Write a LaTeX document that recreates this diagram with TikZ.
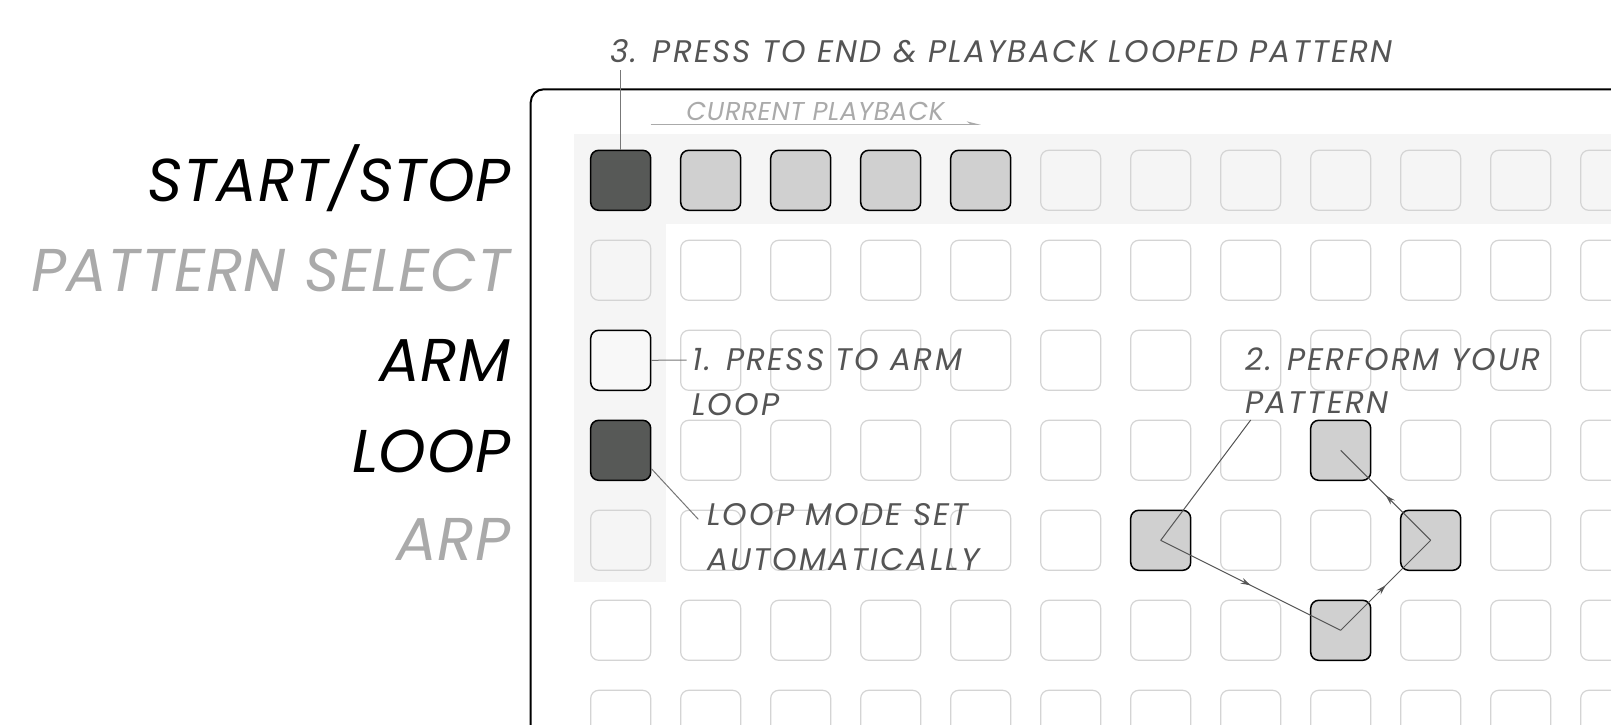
\documentclass[tikz,border=0pt]{standalone}
\usepackage{fontspec}
\setmainfont{Poppins}
\newfontfamily\notefont{Poppins}[LetterSpace=7]
\newfontfamily\faintfont{Poppins}[LetterSpace=2.5]
\newfontfamily\lblfont{Poppins}[LetterSpace=1]
\usetikzlibrary{arrows.meta,decorations.markings}
\definecolor{bandc}{HTML}{F5F5F5}
\definecolor{btnline}{HTML}{D4D4D4}
\definecolor{actfill}{HTML}{D0D0D0}
\definecolor{darkfill}{HTML}{575957}
\definecolor{armfill}{HTML}{F8F8F8}
\definecolor{notec}{HTML}{555555}
\definecolor{faintc}{HTML}{AAAAAA}
\tikzset{
  btn/.style={draw=btnline, line width=0.6pt, rounded corners=4pt, minimum size=30pt, inner sep=0pt},
  act/.style={fill=actfill, draw=black, line width=0.75pt},
  dark/.style={fill=darkfill, draw=black, line width=0.75pt},
  arm/.style={fill=armfill, draw=black, line width=0.75pt},
  s-0-0/.style={dark}, s-1-0/.style={act}, s-2-0/.style={act}, s-3-0/.style={act}, s-4-0/.style={act},
  s-0-2/.style={arm}, s-0-3/.style={dark},
  s-6-4/.style={act}, s-8-3/.style={act}, s-9-4/.style={act}, s-8-5/.style={act},
  lbl/.style={inner sep=0pt, anchor=base east, font=\lblfont\fontsize{30.2}{36}\selectfont\itshape},
  lblon/.style={lbl, text=black},
  lbloff/.style={lbl, text=faintc},
  note/.style={inner sep=0pt, anchor=base west, text=notec, font=\notefont\fontsize{15.6}{18}\selectfont\itshape},
  faintnote/.style={inner sep=0pt, anchor=base west, text=faintc, font=\faintfont\fontsize{12.9}{15}\selectfont\itshape},
  leader/.style={draw=notec!80, line width=0.5pt},
  flowline/.style={draw=notec, line width=0.5pt},
  midarrow/.style={flowline, postaction={decorate}, decoration={markings,
    mark=at position 0.5 with {\arrow{Stealth[length=5pt,width=3pt]}}}},
  framec/.style={draw=black, line width=1pt, rounded corners=6.5pt},
}
\begin{document}
\begin{tikzpicture}[x=0.5pt,y=-0.5pt]
\useasboundingbox (0,0) rectangle (1611,724);
\begin{scope}
\clip (0,0) rectangle (1611,724);
\fill[white] (0,0) rectangle (1611,724);
\fill[bandc] (574,134) rectangle (1640,224);
\fill[bandc] (574,224) rectangle (665.7,581.7);
\draw[framec] (530.7,760) |- (1660,89.3);
\foreach \c in {0,...,11}{
  \foreach \r in {0,...,6}{
    \node[btn, s-\c-\r/.try] (b-\c-\r) at ({620.7+90*\c},{180.3+90*\r}) {};
  }
}
\end{scope}
% row labels
\node[lblon]  (lss)  at (510.5,201) {START/STOP};
\node[lbloff] (lps)  at (510.5,291) {PATTERN SELECT};
\node[lblon]  (larm) at (510.5,381) {ARM};
\node[lblon]  (llp)  at (510.5,472) {LOOP};
\node[lbloff] (larp) at (510.5,560) {ARP};
% current playback
\node[faintnote] (cp) at (686,120) {CURRENT PLAYBACK};
\coordinate (cpa) at (650.7,124.3);
\coordinate (cpb) at (981,124.3);
\draw[draw=faintc, line width=0.6pt, -{Stealth[harpoon,length=6pt,width=3pt]}] (cpa) -- (cpb);
% note 3
\node[note] (n3) at (610,62.7) {3. PRESS TO END \& PLAYBACK LOOPED PATTERN};
\coordinate (n3foot) at (620.7,70);
\draw[leader] (b-0-0.north) -- (n3foot);
% note 1
\node[note] (n1) at (691.7,370) {1. PRESS TO ARM};
\node[note] (n1b) at (691.7,415) {LOOP};
\coordinate (n1tip) at (686.7,360);
\draw[leader] (b-0-2.east) -- (n1tip);
% loop mode
\node[note] (n2) at (706.7,525) {LOOP MODE SET};
\node[note] (n2b) at (706.7,570) {AUTOMATICALLY};
\coordinate (n2tip) at (698.3,519.3);
\draw[leader] (b-0-3.-31) -- (n2tip);
% note 2
\node[note] (n4) at (1245,370) {2. PERFORM YOUR};
\node[note] (n4b) at (1245,413) {PATTERN};
\coordinate (n4foot) at (1250.7,420);
\draw[flowline] (n4foot) -- (b-6-4.center);
\draw[midarrow] (b-6-4.center) -- (b-8-5.center);
\draw[midarrow] (b-8-5.center) -- (b-9-4.center);
\draw[midarrow] (b-9-4.center) -- (b-8-3.center);
\end{tikzpicture}
\end{document}
